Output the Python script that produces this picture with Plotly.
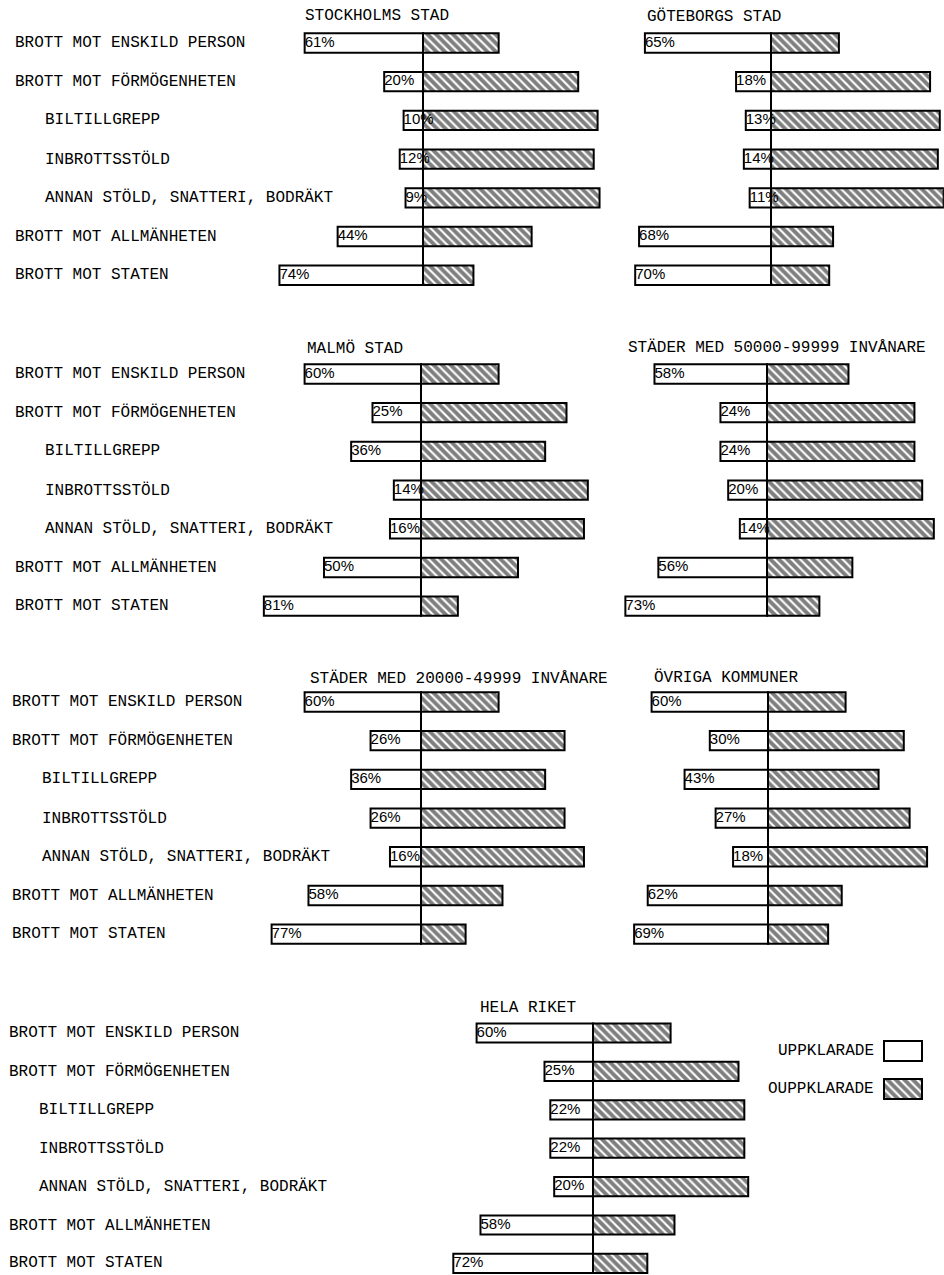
import plotly.graph_objects as go

# ---------------- data ----------------
CATEGORIES = [
    "BROTT MOT ENSKILD PERSON",
    "BROTT MOT FÖRMÖGENHETEN",
    "BILTILLGREPP",
    "INBROTTSSTÖLD",
    "ANNAN STÖLD, SNATTERI, BODRÄKT",
    "BROTT MOT ALLMÄNHETEN",
    "BROTT MOT STATEN",
]
INDENTED = [False, False, True, True, True, False, False]

REGIONS = [
    "STOCKHOLMS STAD",
    "GÖTEBORGS STAD",
    "MALMÖ STAD",
    "STÄDER MED 50000-99999 INVÅNARE",
    "STÄDER MED 20000-49999 INVÅNARE",
    "ÖVRIGA KOMMUNER",
    "HELA RIKET",
]

# percentage cleared (uppklarade); the rest (100 - x) is uncleared (oppklarade)
STOCKHOLM = [61, 20, 10, 12, 9, 44, 74]
GOTEBORG = [65, 18, 13, 14, 11, 68, 70]
MALMO = [60, 25, 36, 14, 16, 50, 81]
STADER_50000 = [58, 24, 24, 20, 14, 56, 73]
STADER_20000 = [60, 26, 36, 26, 16, 58, 77]
OVRIGA = [60, 30, 43, 27, 18, 62, 69]
HELA_RIKET = [60, 25, 22, 22, 20, 58, 72]
VALUES = [STOCKHOLM, GOTEBORG, MALMO, STADER_50000, STADER_20000, OVRIGA, HELA_RIKET]

LEGEND_LABELS = ["UPPKLARADE", "OUPPKLARADE"]

# ---------------- layout (pixels) ----------------
W, H = 944, 1275
S = 1.94  # px per percent
# (center x of axis, y of first row, row spacing, title x, title y, label x main, label x indented or None)
PANELS = [
    (423, 43, 38.7, 303, 16.5, 13, 43),
    (771, 43, 38.7, 645, 16.5, None, None),
    (421, 374, 38.7, 305, 348, 13, 43),
    (767, 374, 38.7, 626, 347, None, None),
    (421, 702, 38.7, 308, 678, 10, 40),
    (768, 702, 38.7, 652, 677, None, None),
    (593, 1033, 38.4, 478, 1008, 7, 37),
]

TXT_FONT = dict(family="Liberation Mono, DejaVu Sans Mono, monospace", size=16, color="black")
PCT_FONT = dict(family="Liberation Sans, Arial, sans-serif", size=15, color="black")
BAR_W = 0.5
HATCH = dict(shape="\\", fgcolor="black", bgcolor="white", size=6, solidity=0.65)
OUTLINE = dict(color="black", width=2)

fig = go.Figure()
annotations = []
shapes = []
layout_axes = {}

for k, (region, vals, p) in enumerate(zip(REGIONS, VALUES, PANELS)):
    cx, y_first, sp, tx, ty, lx, lxi = p
    n = k + 1
    xa = "x" if n == 1 else f"x{n}"
    ya = "y" if n == 1 else f"y{n}"
    xname = "xaxis" if n == 1 else f"xaxis{n}"
    yname = "yaxis" if n == 1 else f"yaxis{n}"

    left_r = 95
    right_r = min(92, (W - cx) / S - 0.05)
    dx0 = max(0.0, (cx - left_r * S) / W)
    dx1 = min(1.0, (cx + right_r * S) / W)
    top = y_first - 0.5 * sp
    bottom = top + 6.8 * sp
    dy0 = max(0.0, 1 - bottom / H)
    dy1 = min(1.0, 1 - top / H)

    layout_axes[xname] = dict(domain=[dx0, dx1], range=[-left_r, right_r], visible=False,
                              anchor=ya, fixedrange=True)
    layout_axes[yname] = dict(domain=[dy0, dy1], range=[6.3, -0.5], visible=False,
                              anchor=xa, fixedrange=True)

    rows = list(range(len(CATEGORIES)))
    cleared = [-v for v in vals]
    uncleared = [100 - v for v in vals]

    fig.add_trace(go.Bar(
        x=cleared, y=rows, orientation="h", width=BAR_W, xaxis=xa, yaxis=ya,
        marker=dict(color="white", line=OUTLINE),
        showlegend=False, hoverinfo="skip",
    ))
    fig.add_trace(go.Bar(
        x=uncleared, y=rows, orientation="h", width=BAR_W, xaxis=xa, yaxis=ya,
        marker=dict(color="white", line=OUTLINE, pattern=HATCH),
        showlegend=False, hoverinfo="skip",
    ))
    fig.add_trace(go.Scatter(
        x=cleared, y=rows, mode="text", text=[f"{v}%" for v in vals],
        textposition="middle right", textfont=PCT_FONT, xaxis=xa, yaxis=ya,
        showlegend=False, hoverinfo="skip", cliponaxis=False,
    ))

    shapes.append(dict(type="line", xref=xa, yref=ya, x0=0, x1=0,
                       y0=-BAR_W / 2, y1=len(CATEGORIES) - 1 + BAR_W / 2,
                       line=dict(color="black", width=2), layer="above"))

    annotations.append(dict(text=region, xref="paper", yref="paper", x=tx / W, y=1 - ty / H,
                            xanchor="left", yanchor="middle", showarrow=False, font=TXT_FONT))

    if lx is not None:
        for i, (cat, ind) in enumerate(zip(CATEGORIES, INDENTED)):
            annotations.append(dict(text=cat, xref="paper", yref=ya, x=(lxi if ind else lx) / W,
                                    y=i, xanchor="left", yanchor="middle", showarrow=False,
                                    font=TXT_FONT))

# ---------------- legend swatches ----------------
n = len(PANELS) + 1
lx0, lx1 = 882.1, 923.9
ltop, lbot = 1032, 1108
layout_axes[f"xaxis{n}"] = dict(domain=[lx0 / W, lx1 / W], range=[-0.05, 1.05], visible=False,
                                anchor=f"y{n}", fixedrange=True)
layout_axes[f"yaxis{n}"] = dict(domain=[1 - lbot / H, 1 - ltop / H], range=[1.5, -0.5],
                                visible=False, anchor=f"x{n}", fixedrange=True)
fig.add_trace(go.Bar(x=[1], y=[0], orientation="h", width=0.53, xaxis=f"x{n}", yaxis=f"y{n}",
                     marker=dict(color="white", line=OUTLINE),
                     showlegend=False, hoverinfo="skip"))
fig.add_trace(go.Bar(x=[1], y=[1], orientation="h", width=0.53, xaxis=f"x{n}", yaxis=f"y{n}",
                     marker=dict(color="white", line=OUTLINE, pattern=HATCH),
                     showlegend=False, hoverinfo="skip"))
for i, lab in enumerate(LEGEND_LABELS):
    annotations.append(dict(text=lab, xref="paper", yref=f"y{n}", x=(lx0 - 6) / W, y=i,
                            xanchor="right", yanchor="middle", showarrow=False, font=TXT_FONT))

fig.update_layout(
    width=W, height=H,
    margin=dict(l=0, r=0, t=0, b=0),
    paper_bgcolor="white", plot_bgcolor="rgba(0,0,0,0)",
    barmode="relative",
    showlegend=False,
    annotations=annotations,
    shapes=shapes,
    **layout_axes,
)

fig.write_html("out.html",
               config={"displayModeBar": False, "staticPlot": True},
               post_script="document.body.style.margin='0';document.body.style.padding='0';")
